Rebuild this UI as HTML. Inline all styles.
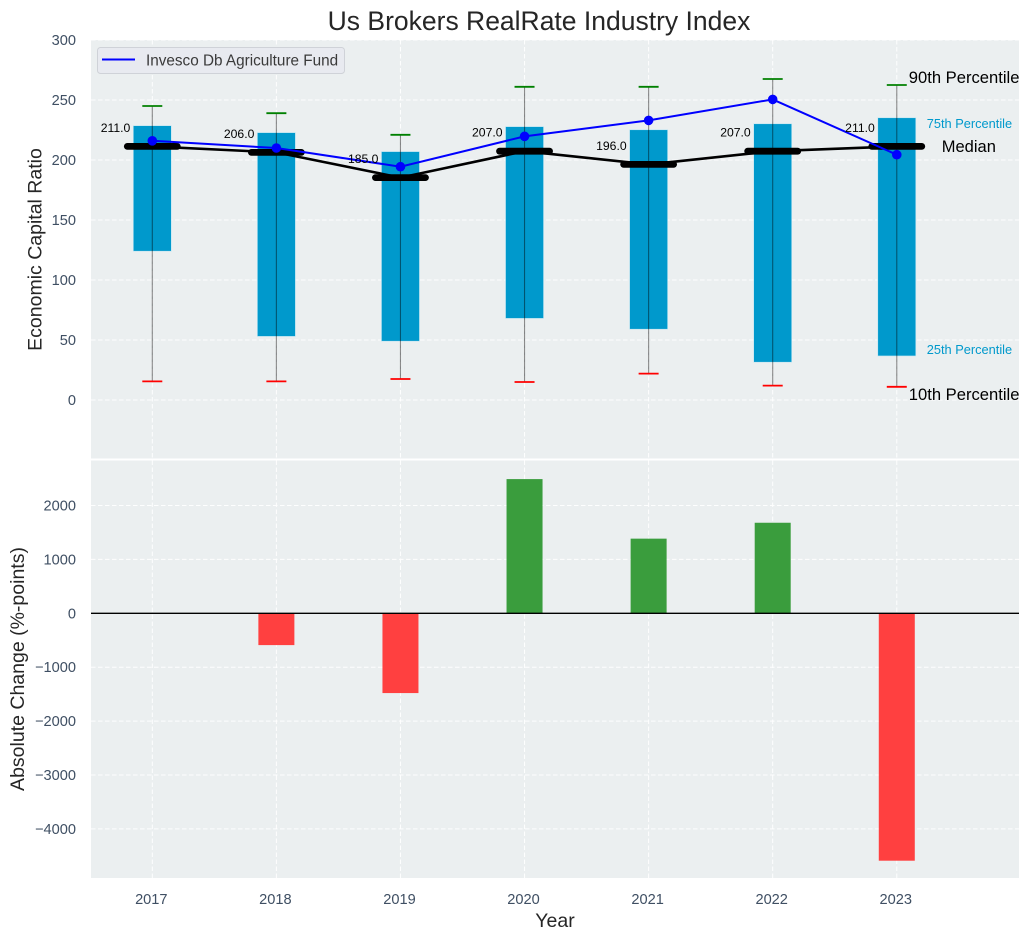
<!DOCTYPE html>
<html><head><meta charset="utf-8">
<style>html,body{margin:0;padding:0;background:#fff}svg{display:block}text{font-family:"Liberation Sans",sans-serif}</style>
</head><body>
<svg id="chart" xmlns="http://www.w3.org/2000/svg" width="1030" height="940" viewBox="0 0 1030 940"></svg>
<script>
const years = [2017, 2018, 2019, 2020, 2021, 2022, 2023];
const p90 = [245, 239, 221, 261, 261, 267.5, 262.5];
const p75 = [228.6, 222.8, 207, 227.8, 225.2, 230.2, 235.2];
const median = [211, 206, 185, 207, 196, 207, 211];
const p25 = [124, 53, 49, 68, 59, 31.5, 36.7];
const p10 = [15.5, 15.5, 17.5, 15, 22, 12, 11];
const fund = [216, 210, 194.4, 219.7, 233, 250.5, 204.4];
const change = [0, -590, -1480, 2490, 1385, 1680, -4590];
const topTicks = [0, 50, 100, 150, 200, 250, 300];
const bottomTicks = [-4000, -3000, -2000, -1000, 0, 1000, 2000];

const svg = document.getElementById('chart');
const NS = 'http://www.w3.org/2000/svg';
function add(tag, attrs, text) {
  const el = document.createElementNS(NS, tag);
  for (const k in attrs) el.setAttribute(k, attrs[k]);
  if (text !== undefined) el.textContent = text;
  svg.appendChild(el);
  return el;
}
function mark(el, name, inter) {
  
  
  return el;
}
const X = v => 152.3 + (v - 2017) * 124.08;
const Y1 = v => 400 - v * 1.2;
const Y2 = v => 613.3 - v * 0.0539;
const L = 91, R = 1019, T1 = 40, B1 = 458.5, T2 = 460.5, B2 = 878;
const tickColor = '#3f4f63';
const grid = {stroke: '#ffffff', 'stroke-width': 1, 'stroke-dasharray': '4.5 2.5', opacity: 0.95};

mark(add('rect', {x: L, y: T1, width: R - L, height: B1 - T1, fill: '#ebeff0'}), 'top-plot-area', 'false');
mark(add('rect', {x: L, y: T2, width: R - L, height: B2 - T2, fill: '#ebeff0'}), 'bottom-plot-area', 'false');

topTicks.forEach(t => {
  mark(add('line', Object.assign({x1: L, x2: R, y1: Y1(t), y2: Y1(t)}, grid)), 'top-gridline-y', 'false');
  mark(add('text', {x: 76, y: Y1(t) + 5, 'text-anchor': 'end', 'font-size': 14.6, fill: tickColor}, String(t)), 'top-y-tick-label', 'false');
});
bottomTicks.forEach(t => {
  if (t !== 0) {
    mark(add('line', Object.assign({x1: L, x2: R, y1: Y2(t), y2: Y2(t)}, grid)), 'bottom-gridline-y', 'false');
  }
  mark(add('text', {x: 76, y: Y2(t) + 5, 'text-anchor': 'end', 'font-size': 14.6, fill: tickColor}, String(t).replace('-', '\u2212')), 'bottom-y-tick-label', 'false');
});
years.forEach(y => {
  mark(add('line', Object.assign({x1: X(y), x2: X(y), y1: T1, y2: B1}, grid)), 'top-gridline-x', 'false');
  mark(add('line', Object.assign({x1: X(y), x2: X(y), y1: T2, y2: B2}, grid)), 'bottom-gridline-x', 'false');
  mark(add('text', {x: X(y) - 1, y: 904, 'text-anchor': 'middle', 'font-size': 14.6, fill: tickColor}, String(y)), 'x-tick-label', 'false');
});

years.forEach((y, i) => {
  const h = Math.abs(Y1(p25[i]) - Y1(p75[i]));
  mark(add('rect', {x: X(y) - 19, y: Y1(p75[i]), width: 38, height: h, fill: '#0099cc', stroke: '#bfe5f2', 'stroke-width': 0.6}), 'box-' + y, 'false');
});
years.forEach((y, i) => {
  mark(add('line', {x1: X(y), x2: X(y), y1: Y1(p10[i]), y2: Y1(p90[i]), stroke: '#000', 'stroke-opacity': 0.45, 'stroke-width': 1.1}), 'whisker-' + y, 'false');
  mark(add('line', {x1: X(y) - 10, x2: X(y) + 10, y1: Y1(p90[i]), y2: Y1(p90[i]), stroke: '#008000', 'stroke-width': 1.8}), 'p90-cap-' + y, 'false');
  mark(add('line', {x1: X(y) - 10, x2: X(y) + 10, y1: Y1(p10[i]), y2: Y1(p10[i]), stroke: '#ff0000', 'stroke-width': 1.8}), 'p10-cap-' + y, 'false');
});

mark(add('polyline', {points: years.map((y, i) => X(y) + ',' + (Y1(median[i]) - 0.4)).join(' '), fill: 'none', stroke: '#000', 'stroke-width': 2.6}), 'median-line', 'false');
years.forEach((y, i) => {
  mark(add('line', {x1: X(y) - 25, x2: X(y) + 25, y1: Y1(median[i]) - 0.4, y2: Y1(median[i]) - 0.4, stroke: '#000', 'stroke-width': 6.8, 'stroke-linecap': 'round'}), 'median-bar-' + y, 'false');
});
mark(add('polyline', {points: years.map((y, i) => X(y) + ',' + Y1(fund[i])).join(' '), fill: 'none', stroke: '#0000ff', 'stroke-width': 2}), 'fund-line', 'false');
years.forEach((y, i) => {
  mark(add('circle', {cx: X(y), cy: Y1(fund[i]), r: 4.8, fill: '#0000ff'}), 'fund-point-' + y, 'false');
});
years.forEach((y, i) => {
  mark(add('text', {x: X(y) - 22, y: Y1(median[i]) - 15, 'text-anchor': 'end', 'font-size': 12.2, fill: '#000'}, median[i].toFixed(1)), 'median-value-' + y, 'false');
});

const last = years.length - 1;
const lx = X(years[last]);
mark(add('text', {x: lx + 12, y: Y1(p90[last]) - 2, 'font-size': 16.6, fill: '#000'}, '90th Percentile'), 'p90-annotation', 'false');
mark(add('text', {x: lx + 30, y: Y1(p75[last]) + 10, 'font-size': 12.8, fill: '#0099cc'}, '75th Percentile'), 'p75-annotation', 'false');
mark(add('text', {x: lx + 45, y: Y1(median[last]) + 5, 'font-size': 16.5, fill: '#000'}, 'Median'), 'median-annotation', 'false');
mark(add('text', {x: lx + 30, y: Y1(p25[last]) - 2, 'font-size': 12.8, fill: '#0099cc'}, '25th Percentile'), 'p25-annotation', 'false');
mark(add('text', {x: lx + 12, y: Y1(p10[last]) + 13, 'font-size': 16.6, fill: '#000'}, '10th Percentile'), 'p10-annotation', 'false');

mark(add('rect', {x: 97.5, y: 47.5, width: 247, height: 26, rx: 3, fill: '#e8eaf0', stroke: '#cfd2d8', 'stroke-width': 1}), 'legend-box', 'false');
mark(add('line', {x1: 102, x2: 135, y1: 59.5, y2: 59.5, stroke: '#0000ff', 'stroke-width': 2}), 'legend-line', 'false');
mark(add('text', {x: 146, y: 65.5, 'font-size': 15.3, fill: '#3a3a3a'}, 'Invesco Db Agriculture Fund'), 'legend-label', 'false');

years.forEach((y, i) => {
  if (change[i] === 0) return;
  const v0 = Y2(0), v1 = Y2(change[i]);
  mark(add('rect', {x: X(y) - 18, y: Math.min(v0, v1), width: 36, height: Math.abs(v1 - v0), fill: change[i] > 0 ? '#3a9d3d' : '#ff4040'}), 'change-bar-' + y, 'false');
});
mark(add('line', {x1: L, x2: R, y1: Y2(0), y2: Y2(0), stroke: '#000', 'stroke-width': 1.4}), 'zero-line', 'false');

mark(add('text', {x: 539, y: 30, 'text-anchor': 'middle', 'font-size': 26.5, fill: '#262626'}, 'Us Brokers RealRate Industry Index'), 'chart-title', 'false');
mark(add('text', {x: 0, y: 0, transform: 'translate(41.5,249.5) rotate(-90)', 'text-anchor': 'middle', 'font-size': 19.5, fill: '#262626'}, 'Economic Capital Ratio'), 'top-y-axis-title', 'false');
mark(add('text', {x: 0, y: 0, transform: 'translate(24,669) rotate(-90)', 'text-anchor': 'middle', 'font-size': 19.5, fill: '#262626'}, 'Absolute Change (%-points)'), 'bottom-y-axis-title', 'false');
mark(add('text', {x: 555, y: 927, 'text-anchor': 'middle', 'font-size': 19.5, fill: '#262626'}, 'Year'), 'x-axis-title', 'false');
</script>
</body></html>
